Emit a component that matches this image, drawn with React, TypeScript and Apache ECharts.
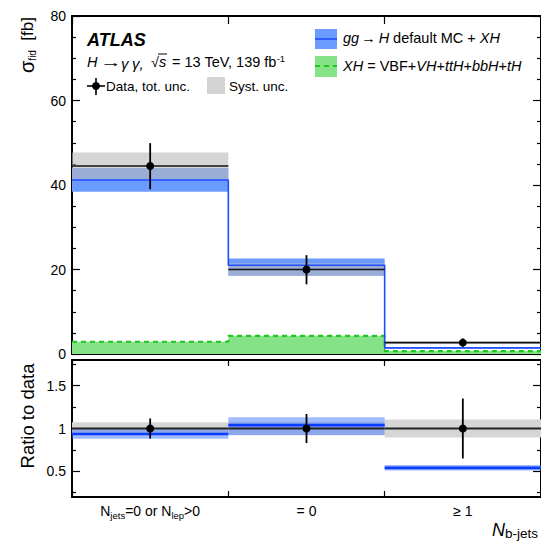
import React, { useEffect, useRef } from 'react';
import * as echarts from 'echarts';

// ---- data ----
const binLabels = ['N_jets=0 or N_lep>0', '= 0', '≥ 1'];
const binEdges = [0, 1, 2, 3];
// main panel (fb)
const dataXs = [44.5, 20.0, 2.7];
const dataErrLo = [39.0, 16.5, 1.75];
const dataErrHi = [49.9, 23.4, 3.65];
const dataSyst = [3.2, 1.5, 0.28];
const ggHPred = [41.2, 21.0, 1.45];
const ggHLo = [38.4, 18.5, 1.35];
const ggHHi = [44.0, 22.6, 1.55];
const xhPred = [2.9, 4.3, 0.7];
// ratio panel
const ratioData = [1, 1, 1];
const ratioErrLo = [0.883, 0.83, 0.65];
const ratioErrHi = [1.117, 1.17, 1.35];
const ratioSyst = [0.072, 0.075, 0.105];
const ratioPred = [0.935, 1.04, 0.54];
const ratioPredLo = [0.88, 0.92, 0.51];
const ratioPredHi = [0.99, 1.13, 0.575];
// axes
const mainRange = { min: 0, max: 80 };
const mainTicks = [0, 20, 40, 60, 80];
const mainMinorTicks = [5, 10, 15, 25, 30, 35, 45, 50, 55, 65, 70, 75];
const ratioRange = { min: 0.2, max: 1.8 };
const ratioTicks = [0.5, 1, 1.5];
const ratioMinorTicks = [0.25, 0.75, 1.25, 1.75];

const FONT = '"Liberation Sans", Arimo, Helvetica, Arial, sans-serif';

const centers = binEdges.slice(0, -1).map((e, i) => (e + binEdges[i + 1]) / 2);

function stepPoints(vals: number[]) {
  const pts: number[][] = [];
  vals.forEach((v, i) => {
    pts.push([binEdges[i], v]);
    pts.push([binEdges[i + 1], v]);
  });
  return pts;
}

function bandRows(lo: number[], hi: number[]) {
  return lo.map((l, i) => [binEdges[i], binEdges[i + 1], l, hi[i]]);
}

function rectSeries(xi: number, yi: number, rows: number[][], fill: string, z: number) {
  return {
    type: 'custom',
    xAxisIndex: xi,
    yAxisIndex: yi,
    silent: true,
    clip: false,
    z,
    encode: { x: [0, 1], y: [2, 3] },
    data: rows,
    renderItem: (params: any, api: any) => {
      const p0 = api.coord([api.value(0), api.value(2)]);
      const p1 = api.coord([api.value(1), api.value(3)]);
      return {
        type: 'rect',
        shape: { x: p0[0], y: p1[1], width: p1[0] - p0[0], height: p0[1] - p1[1] },
        style: { fill },
      };
    },
  };
}

function hlineSeries(xi: number, yi: number, vals: number[], stroke: string, lw: number, z: number) {
  return {
    type: 'custom',
    xAxisIndex: xi,
    yAxisIndex: yi,
    silent: true,
    clip: false,
    z,
    encode: { x: [0, 1], y: 2 },
    data: vals.map((v, i) => [binEdges[i], binEdges[i + 1], v]),
    renderItem: (params: any, api: any) => {
      const p0 = api.coord([api.value(0), api.value(2)]);
      const p1 = api.coord([api.value(1), api.value(2)]);
      return {
        type: 'line',
        shape: { x1: p0[0], y1: p0[1], x2: p1[0], y2: p1[1] },
        style: { stroke, lineWidth: lw },
      };
    },
  };
}

function errSeries(xi: number, yi: number, vals: number[], lo: number[], hi: number[], z: number) {
  return {
    type: 'custom',
    xAxisIndex: xi,
    yAxisIndex: yi,
    silent: true,
    clip: false,
    z,
    encode: { x: 0, y: [1, 2, 3] },
    data: vals.map((v, i) => [centers[i], v, lo[i], hi[i]]),
    renderItem: (params: any, api: any) => {
      const c = api.coord([api.value(0), api.value(1)]);
      const a = api.coord([api.value(0), api.value(2)]);
      const b = api.coord([api.value(0), api.value(3)]);
      return {
        type: 'group',
        children: [
          { type: 'line', shape: { x1: a[0], y1: a[1], x2: b[0], y2: b[1] }, style: { stroke: '#000', lineWidth: 1.8 } },
          { type: 'circle', shape: { cx: c[0], cy: c[1], r: 4 }, style: { fill: '#000' } },
        ],
      };
    },
  };
}

function richLabel(s: string) {
  const parts = s.split(/_([a-z-]+)/);
  return parts
    .map((p, i) => (p === '' ? '' : i % 2 === 0 ? `{n|${p}}` : `{s|${p}}`))
    .join('');
}

const lineStyleAxis = { color: '#000', width: 1.8 };
const tickStyle = { color: '#000', width: 1.2 };

function xAxisCfg(gridIndex: number, position: string, tickLen: number) {
  return {
    type: 'value',
    gridIndex,
    position,
    min: 0,
    max: 3,
    interval: 1,
    axisLine: { show: true, onZero: false, lineStyle: lineStyleAxis },
    axisTick: { show: true, inside: true, length: tickLen, lineStyle: tickStyle },
    axisLabel: { show: false },
    splitLine: { show: false },
  };
}

function yAxisCfg(
  gridIndex: number,
  position: string,
  range: { min: number; max: number },
  ticks: number[],
  tickLen: number,
  labels: number[] | null,
) {
  return {
    type: 'value',
    gridIndex,
    position,
    ...range,
    axisLine: { show: true, onZero: false, lineStyle: lineStyleAxis },
    axisTick: { show: true, inside: true, length: tickLen, lineStyle: tickStyle, customValues: ticks },
    axisLabel: labels
      ? { show: true, fontSize: 14, color: '#000', fontFamily: FONT, margin: 6, customValues: labels, hideOverlap: false }
      : { show: false },
    splitLine: { show: false },
  };
}

export default function App() {
  const ref = useRef<HTMLDivElement>(null);
  useEffect(() => {
    document.body.style.margin = '0';
    if (!ref.current) return;
    const chart = echarts.init(ref.current, null, { renderer: 'svg' });
    const txt = { fontFamily: FONT, color: '#000' };
    const t14 = { ...txt, fontSize: 14.5 };
    const option: any = {
      animation: false,
      backgroundColor: '#fff',
      grid: [
        { left: 72, top: 16, width: 470, height: 338 },
        { left: 72, top: 360, width: 470, height: 137 },
      ],
      xAxis: [
        xAxisCfg(0, 'bottom', 8),
        xAxisCfg(0, 'top', 8),
        xAxisCfg(1, 'bottom', 6),
        xAxisCfg(1, 'top', 6),
        {
          type: 'category',
          gridIndex: 1,
          position: 'bottom',
          data: binLabels,
          boundaryGap: true,
          axisLine: { show: false },
          axisTick: { show: false },
          splitLine: { show: false },
          axisLabel: {
            interval: 0,
            margin: 5,
            formatter: (v: string) => richLabel(v),
            rich: {
              n: { ...txt, fontSize: 14, lineHeight: 18, verticalAlign: 'middle' },
              s: { ...txt, fontSize: 9.5, lineHeight: 9, verticalAlign: 'bottom' },
            },
          },
        },
      ],
      yAxis: [
        yAxisCfg(0, 'left', mainRange, mainTicks, 8, mainTicks),
        yAxisCfg(0, 'right', mainRange, mainTicks, 8, null),
        yAxisCfg(0, 'left', mainRange, mainMinorTicks, 4, null),
        yAxisCfg(0, 'right', mainRange, mainMinorTicks, 4, null),
        yAxisCfg(1, 'left', ratioRange, ratioTicks, 8, ratioTicks),
        yAxisCfg(1, 'right', ratioRange, ratioTicks, 8, null),
        yAxisCfg(1, 'left', ratioRange, ratioMinorTicks, 4, null),
        yAxisCfg(1, 'right', ratioRange, ratioMinorTicks, 4, null),
      ],
      series: [
        // main panel
        rectSeries(0, 0, bandRows(ggHLo, ggHHi), '#6b9bff', 1),
        rectSeries(0, 0, bandRows(dataXs.map((v, i) => v - dataSyst[i]), dataXs.map((v, i) => v + dataSyst[i])), 'rgba(185,185,185,0.6)', 2),
        {
          type: 'line',
          xAxisIndex: 0,
          yAxisIndex: 0,
          data: stepPoints(xhPred),
          symbol: 'none',
          silent: true,
          z: 3,
          lineStyle: { color: '#1ec81e', width: 2.2, type: [5, 4] },
          areaStyle: { color: '#86e286', opacity: 1, origin: 'start' },
        },
        {
          type: 'line',
          xAxisIndex: 0,
          yAxisIndex: 0,
          data: stepPoints(ggHPred),
          symbol: 'none',
          silent: true,
          z: 4,
          lineStyle: { color: '#1f4cff', width: 1.6 },
        },
        hlineSeries(0, 0, dataXs, '#111', 1.6, 5),
        errSeries(0, 0, dataXs, dataErrLo, dataErrHi, 6),
        // ratio panel
        rectSeries(2, 4, bandRows(ratioData.map((v, i) => v - ratioSyst[i]), ratioData.map((v, i) => v + ratioSyst[i])), '#d6d6d6', 1),
        rectSeries(2, 4, bandRows(ratioPredLo, ratioPredHi), 'rgba(70,120,255,0.5)', 2),
        hlineSeries(2, 4, ratioData, '#222', 2, 3),
        hlineSeries(2, 4, ratioPred, '#0a3cff', 2.6, 4),
        errSeries(2, 4, ratioData, ratioErrLo, ratioErrHi, 6),
      ],
      graphic: [
        // y-axis titles
        {
          type: 'text',
          x: 27,
          y: 17,
          rotation: Math.PI / 2,
          style: {
            text: '{g|σ}{s|fid}{n|  [fb]}',
            align: 'right',
            verticalAlign: 'middle',
            rich: {
              g: { ...txt, fontSize: 20, lineHeight: 20, verticalAlign: 'middle' },
              s: { ...txt, fontSize: 10, lineHeight: 10, verticalAlign: 'bottom' },
              n: { ...txt, fontSize: 17, lineHeight: 20, verticalAlign: 'middle' },
            },
          },
        },
        {
          type: 'text',
          x: 27,
          y: 416,
          rotation: Math.PI / 2,
          style: { ...txt, text: 'Ratio to data', fontSize: 18.5, align: 'center', verticalAlign: 'middle' },
        },
        // x-axis title
        {
          type: 'text',
          x: 492,
          y: 530,
          style: {
            text: '{N|N}{s|b-jets}',
            align: 'left',
            verticalAlign: 'middle',
            rich: {
              N: { ...txt, fontSize: 18, fontStyle: 'italic', lineHeight: 20, verticalAlign: 'middle' },
              s: { ...txt, fontSize: 13.5, lineHeight: 12, verticalAlign: 'bottom' },
            },
          },
        },
        // ATLAS label
        {
          type: 'text',
          x: 87,
          y: 40,
          style: { ...txt, text: 'ATLAS', fontSize: 18, fontWeight: 'bold', fontStyle: 'italic', verticalAlign: 'middle' },
        },
        { type: 'text', x: 87, y: 62, style: { ...t14, text: 'H', fontStyle: 'italic', verticalAlign: 'middle' } },
        { type: 'text', x: 100, y: 62, scaleX: 1.5, style: { ...t14, text: '→', verticalAlign: 'middle' } },
        { type: 'text', x: 121, y: 63, style: { ...t14, fontSize: 15, text: 'γ', fontStyle: 'italic', verticalAlign: 'middle' } },
        { type: 'text', x: 132, y: 63, style: { ...t14, fontSize: 15, text: 'γ,', fontStyle: 'italic', verticalAlign: 'middle' } },
        { type: 'text', x: 151, y: 62, style: { ...t14, text: '√', verticalAlign: 'middle' } },
        { type: 'line', shape: { x1: 158, y1: 54, x2: 167, y2: 54 }, style: { stroke: '#000', lineWidth: 1 } },
        { type: 'text', x: 159, y: 62, style: { ...t14, text: 's', fontStyle: 'italic', verticalAlign: 'middle' } },
        {
          type: 'text',
          x: 172,
          y: 62,
          style: {
            text: '{n|= 13 TeV, 139 fb}{u|-1}',
            verticalAlign: 'middle',
            rich: {
              n: { ...t14, lineHeight: 18, verticalAlign: 'middle' },
              u: { ...txt, fontSize: 9.5, lineHeight: 9, verticalAlign: 'top' },
            },
          },
        },
        // data legend
        { type: 'line', shape: { x1: 87, y1: 86, x2: 105, y2: 86 }, style: { stroke: '#000', lineWidth: 1.6 } },
        { type: 'line', shape: { x1: 96, y1: 78, x2: 96, y2: 95 }, style: { stroke: '#000', lineWidth: 1.6 } },
        { type: 'circle', shape: { cx: 96, cy: 86, r: 4 }, style: { fill: '#000' } },
        { type: 'text', x: 106, y: 86, style: { ...txt, text: 'Data, tot. unc.', fontSize: 13.5, verticalAlign: 'middle' } },
        { type: 'rect', shape: { x: 207, y: 77, width: 18, height: 17 }, style: { fill: '#d4d4d4' } },
        { type: 'text', x: 229, y: 86, style: { ...txt, text: 'Syst. unc.', fontSize: 13.5, verticalAlign: 'middle' } },
        // prediction legend
        { type: 'rect', shape: { x: 315, y: 29, width: 22, height: 20 }, style: { fill: '#6b9bff' } },
        { type: 'line', shape: { x1: 315, y1: 39, x2: 337, y2: 39 }, style: { stroke: '#1f4cff', lineWidth: 1.6 } },
        {
          type: 'text',
          x: 343,
          y: 38,
          style: {
            text: '{i|gg}{a|→}{i|H}{n| default MC + }{i|XH}',
            verticalAlign: 'middle',
            rich: {
              i: { ...t14, fontStyle: 'italic' },
              n: { ...t14 },
              a: { ...t14, padding: [0, 3, 0, 2] },
            },
          },
        },
        { type: 'rect', shape: { x: 315, y: 56, width: 22, height: 21 }, style: { fill: '#86e286' } },
        { type: 'line', shape: { x1: 315, y1: 66, x2: 337, y2: 66 }, style: { stroke: '#1ec81e', lineWidth: 2.2, lineDash: [5, 4] } },
        {
          type: 'text',
          x: 343,
          y: 66,
          style: {
            text: '{i|XH}{n| = VBF+}{i|VH}{n|+}{i|ttH}{n|+}{i|bbH}{n|+}{i|tH}',
            verticalAlign: 'middle',
            rich: {
              i: { ...t14, fontStyle: 'italic' },
              n: { ...t14 },
            },
          },
        },
      ],
    };
    chart.setOption(option);
    return () => chart.dispose();
  }, []);
  return <div ref={ref} style={{ width: 541, height: 543 }} />;
}
